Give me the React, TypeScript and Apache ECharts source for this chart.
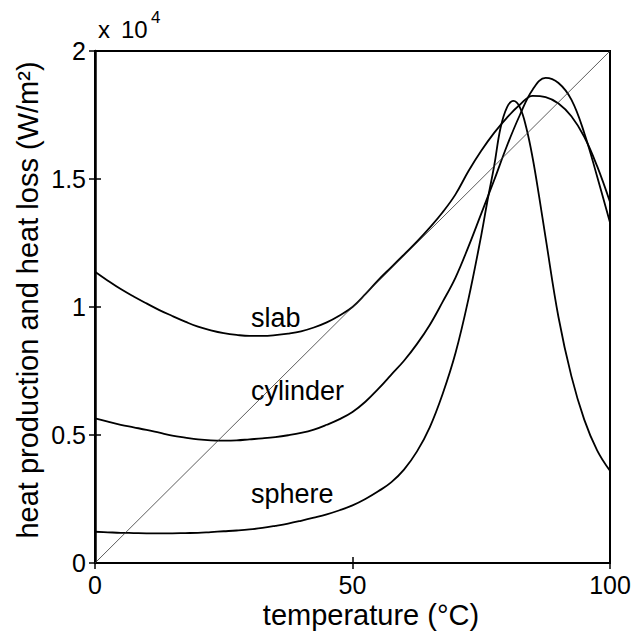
import React, { useEffect, useRef } from "react";
import * as echarts from "echarts";

// Temperature (°C), sampled every 2.5 °C
const temps = [0, 2.5, 5, 7.5, 10, 12.5, 15, 17.5, 20, 22.5, 25, 27.5, 30, 32.5, 35, 37.5, 40, 42.5, 45, 47.5, 50, 52.5, 55, 57.5, 60, 62.5, 65, 67.5, 70, 72.5, 75, 77.5, 80, 82.5, 85, 87.5, 90, 92.5, 95, 97.5, 100];

// Heat production (×10^4 W/m²)
const slabQ = [1.138, 1.103, 1.07, 1.041, 1.014, 0.988, 0.965, 0.943, 0.923, 0.909, 0.898, 0.891, 0.887, 0.887, 0.89, 0.896, 0.905, 0.92, 0.94, 0.967, 1.0, 1.05, 1.105, 1.155, 1.205, 1.255, 1.31, 1.37, 1.44, 1.53, 1.61, 1.68, 1.74, 1.79, 1.825, 1.82, 1.795, 1.745, 1.665, 1.55, 1.41];
const cylQ = [0.565, 0.552, 0.54, 0.53, 0.52, 0.509, 0.498, 0.49, 0.483, 0.479, 0.478, 0.479, 0.483, 0.487, 0.492, 0.499, 0.508, 0.521, 0.54, 0.562, 0.59, 0.63, 0.68, 0.735, 0.79, 0.855, 0.93, 1.02, 1.115, 1.235, 1.365, 1.495, 1.63, 1.75, 1.85, 1.895, 1.875, 1.81, 1.68, 1.51, 1.33];

// Sphere sampled more finely around its sharp peak
const sphT = [0, 2.5, 5, 7.5, 10, 12.5, 15, 17.5, 20, 22.5, 25, 27.5, 30, 32.5, 35, 37.5, 40, 42.5, 45, 47.5, 50, 52.5, 55, 57.5, 60, 62.5, 65, 67.5, 70, 72.5, 75, 76.25, 77.5, 78.75, 80, 81.25, 82.5, 83.75, 85, 86.25, 87.5, 90, 92.5, 95, 97.5, 100];
const sphQ = [0.122, 0.12, 0.118, 0.117, 0.116, 0.116, 0.116, 0.117, 0.118, 0.121, 0.124, 0.127, 0.131, 0.137, 0.145, 0.154, 0.165, 0.177, 0.19, 0.206, 0.225, 0.25, 0.28, 0.315, 0.365, 0.435, 0.53, 0.66, 0.82, 1.03, 1.28, 1.42, 1.55, 1.70, 1.78, 1.805, 1.78, 1.70, 1.58, 1.43, 1.27, 0.96, 0.73, 0.56, 0.44, 0.36];

// Heat loss line
const lossT = [0, 100];
const lossQ = [0, 2];

const xTicks = [0, 50, 100];
const yTicks = [0, 0.5, 1, 1.5, 2];

const curveLabels = ["slab", "cylinder", "sphere"];

const FONT = "Liberation Sans, Arial, sans-serif";

function pairs(xs: number[], ys: number[]) {
  return xs.map((x, i) => [x, ys[i]]);
}

export default function App() {
  const ref = useRef<HTMLDivElement>(null);
  useEffect(() => {
    if (!ref.current) return;
    const chart = echarts.init(ref.current, undefined, { renderer: "svg" });
    const lineStyle = { color: "#000", width: 1.8 };
    const tickCommon = {
      axisTick: { show: true, inside: true, length: 6, lineStyle: { color: "#000", width: 1.5 } },
      splitLine: { show: false },
    };
    chart.setOption({
      animation: false,
      backgroundColor: "#fff",
      grid: { left: 95, right: 25, top: 51, bottom: 72, show: true, borderColor: "#000", borderWidth: 2, backgroundColor: "transparent" },
      xAxis: [
        {
          type: "value", min: xTicks[0], max: xTicks[xTicks.length - 1], interval: 50,
          axisLine: { show: true, lineStyle: { color: "#000", width: 2 } },
          axisLabel: { color: "#000", fontSize: 25, fontFamily: FONT, margin: 9 },
          ...tickCommon,
        },
        {
          type: "value", position: "top", min: 0, max: 100, interval: 50,
          axisLine: { show: true, lineStyle: { color: "#000", width: 2 } },
          axisLabel: { show: false },
          ...tickCommon,
        },
      ],
      yAxis: [
        {
          type: "value", min: yTicks[0], max: yTicks[yTicks.length - 1], interval: 0.5,
          axisLine: { show: true, lineStyle: { color: "#000", width: 2 } },
          axisLabel: { color: "#000", fontSize: 25, fontFamily: FONT, margin: 9 },
          ...tickCommon,
        },
        {
          type: "value", position: "right", min: 0, max: 2, interval: 0.5,
          axisLine: { show: true, lineStyle: { color: "#000", width: 2.5 } },
          axisLabel: { show: false },
          ...tickCommon,
        },
      ],
      series: [
        { type: "line", name: curveLabels[0], data: pairs(temps, slabQ), showSymbol: false, smooth: 0.4, lineStyle },
        { type: "line", name: curveLabels[1], data: pairs(temps, cylQ), showSymbol: false, smooth: 0.4, lineStyle },
        { type: "line", name: curveLabels[2], data: pairs(sphT, sphQ), showSymbol: false, smooth: 0.4, lineStyle },
        { type: "line", name: "loss", data: pairs(lossT, lossQ), showSymbol: false, lineStyle: { color: "#333", width: 0.8 } },
      ],
      graphic: [
        { type: "text", x: 98, y: 29, style: { text: "x", fontSize: 24, fontFamily: FONT, fill: "#000", verticalAlign: "middle" } },
        { type: "text", x: 121, y: 29, style: { text: "10", fontSize: 24, fontFamily: FONT, fill: "#000", verticalAlign: "middle" } },
        { type: "text", x: 151, y: 17, style: { text: "4", fontSize: 17, fontFamily: FONT, fill: "#000", verticalAlign: "middle" } },
        { type: "text", x: 371, y: 615, style: { text: "temperature (°C)", fontSize: 29, fontFamily: FONT, fill: "#000", align: "center", verticalAlign: "middle" } },
        { type: "text", x: 28, y: 300, rotation: Math.PI / 2, style: { text: "heat production and heat loss (W/m²)", fontSize: 29, fontFamily: FONT, fill: "#000", align: "center", verticalAlign: "middle" } },
        { type: "text", x: 251, y: 318, style: { text: curveLabels[0], fontSize: 27, fontFamily: FONT, fill: "#000", verticalAlign: "middle" } },
        { type: "text", x: 251, y: 391, style: { text: curveLabels[1], fontSize: 27, fontFamily: FONT, fill: "#000", verticalAlign: "middle" } },
        { type: "text", x: 251, y: 494, style: { text: curveLabels[2], fontSize: 27, fontFamily: FONT, fill: "#000", verticalAlign: "middle" } },
      ],
    });
    return () => chart.dispose();
  }, []);
  return <div ref={ref} style={{ position: "fixed", left: 0, top: 0, width: 635, height: 635 }} />;
}
